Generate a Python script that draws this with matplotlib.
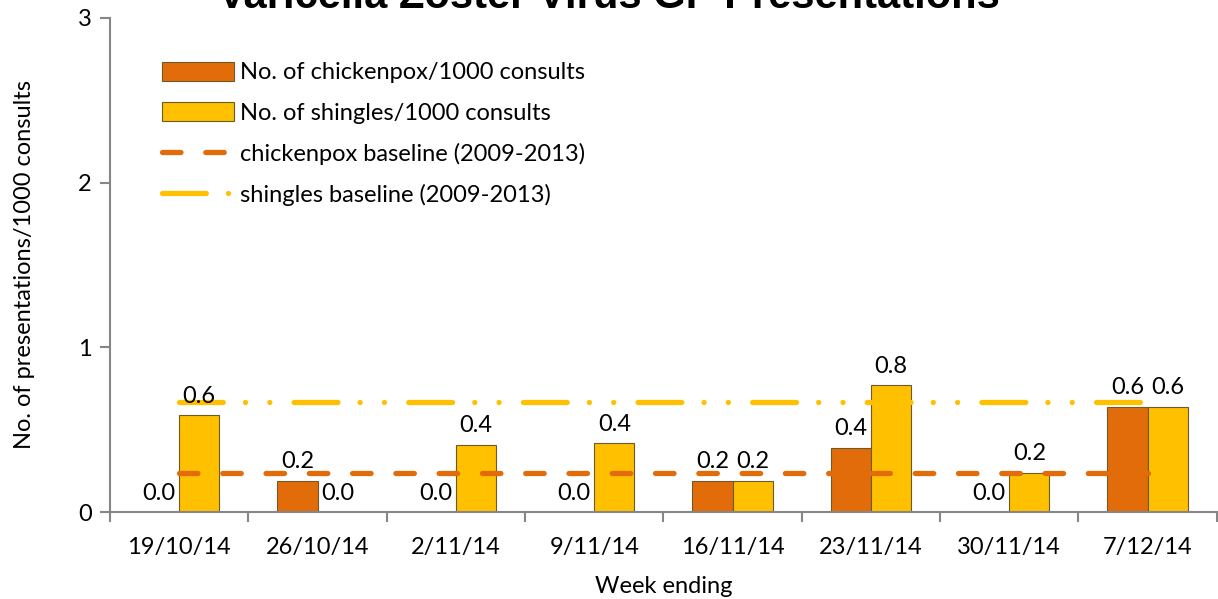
"""Varicella Zoster Virus GP presentations: weekly bars with 2009-2013 baselines."""
import matplotlib
matplotlib.use("Agg")
import matplotlib.pyplot as plt
import numpy as np
from matplotlib.lines import Line2D
from matplotlib.patches import Patch

weeks = ["19/10/14", "26/10/14", "2/11/14", "9/11/14",
         "16/11/14", "23/11/14", "30/11/14", "7/12/14"]
chickenpox = [0.0, 0.19, 0.0, 0.0, 0.19, 0.39, 0.0, 0.64]
shingles = [0.59, 0.0, 0.41, 0.42, 0.19, 0.77, 0.24, 0.64]
chickenpox_labels = ["0.0", "0.2", "0.0", "0.0", "0.2", "0.4", "0.0", "0.6"]
shingles_labels = ["0.6", "0.0", "0.4", "0.4", "0.2", "0.8", "0.2", "0.6"]
chickenpox_base = [0.24] * len(weeks)
shingles_base = [0.67] * len(weeks)

ORANGE = "#E36C0A"
GOLD = "#FFC000"
EDGE = "#6b5a2a"
AXIS = "#868686"
FS = 17

plt.rcParams["font.family"] = ["Lato", "DejaVu Sans"]
plt.rcParams["font.size"] = FS

fig = plt.figure(figsize=(12.18, 5.99), dpi=100)
ax = fig.add_axes([0.0903, 0.1452, 0.9087, 0.8248])

x = np.arange(len(weeks))
w = 0.29
b1 = ax.bar(x - w / 2, chickenpox, w, color=ORANGE, edgecolor=EDGE, linewidth=0.8, zorder=2)
b2 = ax.bar(x + w / 2, shingles, w, color=GOLD, edgecolor=EDGE, linewidth=0.8, zorder=2)

cp_dash = (3.5, 4.7)
sh_dash = (8.3, 4.2, 0.01, 4.6, 0.01, 4.6)
ax.plot(x, chickenpox_base, color=ORANGE, lw=3.8, dash_capstyle="round",
        dashes=cp_dash, zorder=3)
ax.plot(x, shingles_base, color=GOLD, lw=3.8, dash_capstyle="round",
        dashes=sh_dash, zorder=3)

for bars, labels in ((b1, chickenpox_labels), (b2, shingles_labels)):
    for rect, lab in zip(bars, labels):
        ax.annotate(lab, (rect.get_x() + rect.get_width() / 2, rect.get_height()),
                    xytext=(0, 6), textcoords="offset points",
                    ha="center", va="bottom", fontsize=FS, zorder=4)

ax.set_xlim(-0.5, len(weeks) - 0.5)
ax.set_ylim(0, 3)
ax.set_yticks([0, 1, 2, 3])
ax.set_xticks(x)
ax.set_xticklabels(weeks)
ax.set_xticks(np.arange(-0.5, len(weeks)), minor=True)
ax.tick_params(axis="x", which="major", length=0, pad=18)
ax.tick_params(axis="x", which="minor", length=7, color=AXIS, width=1.5)
ax.tick_params(axis="y", length=7, color=AXIS, width=1.5, pad=6)
for side in ("top", "right"):
    ax.spines[side].set_visible(False)
for side in ("left", "bottom"):
    ax.spines[side].set_color(AXIS)
    ax.spines[side].set_linewidth(1.5)

ax.set_xlabel("Week ending", labelpad=13)
ax.set_ylabel("No. of presentations/1000 consults", labelpad=31)

handles = [
    Patch(facecolor=ORANGE, edgecolor=EDGE, linewidth=0.8),
    Patch(facecolor=GOLD, edgecolor=EDGE, linewidth=0.8),
    Line2D([], [], color=ORANGE, lw=3.8, dash_capstyle="round", dashes=cp_dash),
    Line2D([], [], color=GOLD, lw=3.8, dash_capstyle="round", dashes=sh_dash),
]
names = ["No. of chickenpox/1000 consults", "No. of shingles/1000 consults",
         "chickenpox baseline (2009-2013)", "shingles baseline (2009-2013)"]
ax.legend(handles, names, loc="upper left", bbox_to_anchor=(0.036, 0.935),
          frameon=False, handlelength=3.05, handleheight=0.85, handletextpad=0.25,
          labelspacing=0.8, borderpad=0, fontsize=FS)

fig.text(0.5, 1 - 8 / 599, "Varicella Zoster Virus GP Presentations",
         ha="center", va="baseline", fontsize=30, fontweight="bold",
         family=["Liberation Sans", "DejaVu Sans"])

fig.savefig("out.png", dpi=100)
